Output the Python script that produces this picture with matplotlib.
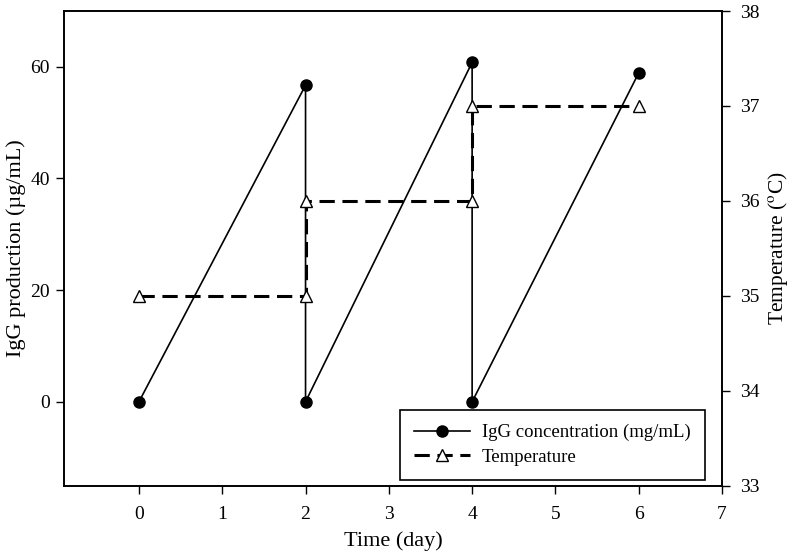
import matplotlib
matplotlib.use("Agg")
import matplotlib.pyplot as plt
from matplotlib.lines import Line2D

plt.rcParams['font.family'] = ['Liberation Serif', 'DejaVu Serif']
plt.rcParams['mathtext.fontset'] = 'stix'

# Data
igg_day = [0, 2, 2, 4, 4, 6]
igg_val = [0.0, 56.7, 0.0, 60.8, 0.0, 58.9]
igg_err = [0.0, 0.3, 0.0, 0.4, 0.0, 0.3]
temp_day = [0, 2, 2, 4, 4, 6]
temp_val = [35, 35, 36, 36, 37, 37]
x_ticks = [0, 1, 2, 3, 4, 5, 6, 7]
left_ticks = [0, 20, 40, 60]
right_ticks = [33, 34, 35, 36, 37, 38]

fig = plt.figure(figsize=(7.95, 5.53), dpi=100)
ax = fig.add_axes([64/795, 1-485.5/553, (722-64)/795, (485.5-11)/553])
ax2 = ax.twinx()

ax.errorbar(igg_day, igg_val, yerr=igg_err, color='black', lw=1.2,
            marker='o', ms=8, mfc='black', mec='black', capsize=3,
            elinewidth=1)
ax2.plot(temp_day, temp_val, color='black', lw=2.2, ls=(0, (5, 2.5)),
         marker='^', ms=8, mfc='white', mec='black', mew=1.0)

ax.set_xlim(-0.9, 7)
ax.set_ylim(-15, 70)
ax2.set_ylim(33, 38)
ax.set_xticks(x_ticks)
ax.set_yticks(left_ticks)
ax2.set_yticks(right_ticks)

for a in (ax, ax2):
    a.tick_params(labelsize=14, length=6, width=1, direction='out')
    for s in a.spines.values():
        s.set_linewidth(1.2)
ax.tick_params(axis='y', pad=4)
ax.tick_params(axis='x', pad=9)
ax2.tick_params(axis='y', pad=7)

ax.set_xlabel('Time (day)', fontsize=16, labelpad=6)
ax.set_ylabel('IgG production (\u00b5g/mL)', fontsize=16, labelpad=3)
ax2.set_ylabel('Temperature ($^{\\rm o}$C)', fontsize=15.5, labelpad=5)

h1 = Line2D([], [], color='black', lw=1.2, marker='o', ms=8, mfc='black', mec='black')
h2 = Line2D([], [], color='black', lw=2.2, ls=(0, (5, 2.5)), marker='^', ms=8,
            mfc='white', mec='black', mew=1.0)
leg = ax2.legend([h1, h2], ['IgG concentration (mg/mL)', 'Temperature'],
                 loc='lower right', bbox_to_anchor=(0.974, 0.0116), borderaxespad=0,
                 fontsize=13.5, frameon=True, fancybox=False, edgecolor='black',
                 framealpha=1, handlelength=3.0, handletextpad=0.65,
                 borderpad=0.75, labelspacing=0.4)
leg.get_frame().set_linewidth(1.2)

fig.savefig('out.png', dpi=100)
